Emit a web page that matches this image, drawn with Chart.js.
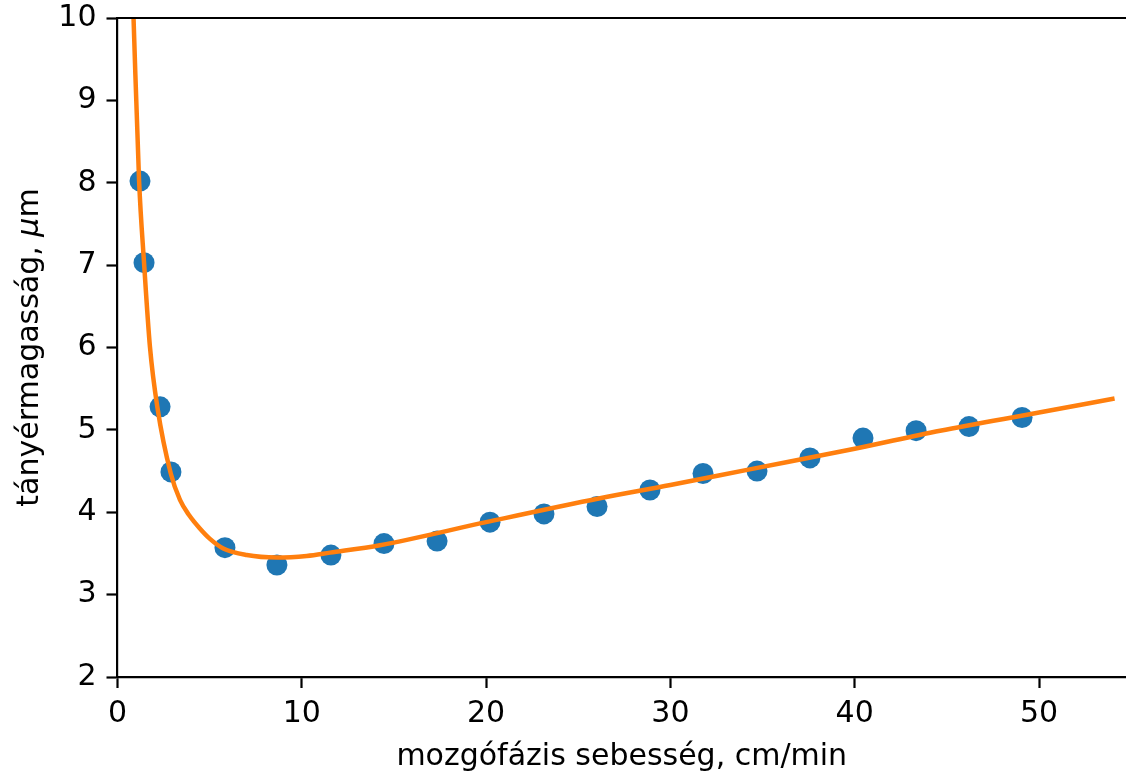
<!DOCTYPE html>
<html>
<head>
<meta charset="utf-8">
<script src="https://cdn.jsdelivr.net/npm/chart.js@4.4.1/dist/chart.umd.min.js"></script>
<style>
  html, body { margin: 0; padding: 0; background: #fff; }
  #wrap { width: 1126px; height: 777px; }
</style>
</head>
<body>
<div id="wrap"><canvas id="plot" width="1126" height="777"></canvas></div>
<script>
// measured points (mobile phase velocity vs plate height)
const speedMeasured = [1.22, 1.44, 2.31, 2.90, 5.83, 8.65, 11.58, 14.46, 17.34, 20.21,
  23.14, 26.02, 28.89, 31.77, 34.70, 37.57, 40.45, 43.33, 46.20, 49.08];
const heightMeasured = [8.02, 7.03, 5.28, 4.49, 3.57, 3.36, 3.48, 3.62, 3.65, 3.88,
  3.98, 4.07, 4.27, 4.47, 4.50, 4.66, 4.90, 4.99, 5.04, 5.15];

// fitted curve
const speedFit = [0.87, 1.17, 1.44, 1.76, 2.16, 2.89, 3.39, 3.90, 4.48, 5.00, 5.74, 7.01, 8.64,
  10.27, 11.53, 14.24, 20.0, 26.18, 30.0, 34.3, 40.0, 44.63, 50.0, 54.1];
const heightFit = [10.0, 8.03, 7.03, 6.01, 5.28, 4.47, 4.15, 3.96, 3.80, 3.68, 3.56, 3.48, 3.45,
  3.47, 3.51, 3.60, 3.88, 4.17, 4.33, 4.52, 4.77, 4.99, 5.21, 5.38];

const xTitle = 'mozgófázis sebesség, cm/min';
const yTitleParts = [['tányérmagasság, ', ''], ['μ', 'italic '], ['m', '']];

const FONT = '"DejaVu Sans", sans-serif';
const FSIZE = 30;
const SPINE = 2.2;

const toPoints = (xs, ys) => xs.map((x, i) => ({ x: x, y: ys[i] }));

// draws the top spine and both axis titles
const decorations = {
  id: 'decorations',
  afterDraw(chart) {
    const ctx = chart.ctx;
    const area = chart.chartArea;
    ctx.save();
    ctx.strokeStyle = '#000';
    ctx.lineWidth = SPINE;
    ctx.beginPath();
    ctx.moveTo(area.left - SPINE / 2, area.top);
    ctx.lineTo(area.right, area.top);
    ctx.stroke();

    ctx.fillStyle = '#000';
    ctx.textBaseline = 'middle';
    ctx.textAlign = 'center';
    ctx.font = FSIZE + 'px ' + FONT;
    ctx.fillText(xTitle, (area.left + area.right) / 2, 757);

    // y title with italic mu
    ctx.translate(30, (area.top + area.bottom) / 2);
    ctx.rotate(-Math.PI / 2);
    ctx.textAlign = 'left';
    let total = 0;
    yTitleParts.forEach(p => {
      ctx.font = p[1] + FSIZE + 'px ' + FONT;
      total += ctx.measureText(p[0]).width;
    });
    let pos = -total / 2;
    yTitleParts.forEach(p => {
      ctx.font = p[1] + FSIZE + 'px ' + FONT;
      ctx.fillText(p[0], pos, 0);
      pos += ctx.measureText(p[0]).width;
    });
    ctx.restore();
  }
};

const axisCommon = {
  border: { display: true, color: '#000', width: SPINE },
  grid: { display: true, drawOnChartArea: false, drawTicks: true, tickLength: 11, tickWidth: SPINE, color: '#000' },
  ticks: { color: '#000', font: { family: FONT, size: FSIZE }, padding: 8 }
};

new Chart(document.getElementById('plot').getContext('2d'), {
  type: 'scatter',
  data: {
    datasets: [
      {
        label: 'fit',
        data: toPoints(speedFit, heightFit),
        showLine: true,
        borderColor: '#ff7f0e',
        borderWidth: 4.5,
        pointRadius: 0,
        cubicInterpolationMode: 'monotone',
        fill: false
      },
      {
        label: 'measured',
        data: toPoints(speedMeasured, heightMeasured),
        backgroundColor: '#1f77b4',
        borderWidth: 0,
        pointRadius: 10.5
      }
    ]
  },
  options: {
    responsive: false,
    animation: false,
    devicePixelRatio: 1,
    layout: { autoPadding: false, padding: { top: 18, right: 0, bottom: 0, left: 0 } },
    plugins: { legend: { display: false }, tooltip: { enabled: false } },
    scales: {
      x: {
        type: 'linear',
        min: 0,
        max: 54.72,
        border: axisCommon.border,
        grid: axisCommon.grid,
        ticks: Object.assign({}, axisCommon.ticks, { stepSize: 10, includeBounds: false, maxRotation: 0 }),
        afterFit(scale) {
          scale.height = 100;
          scale.paddingLeft = 0;
          scale.paddingRight = 0;
        }
      },
      y: {
        type: 'linear',
        min: 2,
        max: 10,
        border: axisCommon.border,
        grid: axisCommon.grid,
        ticks: Object.assign({}, axisCommon.ticks, { stepSize: 1, padding: 10 }),
        afterFit(scale) {
          scale.width = 117.5;
          scale.paddingTop = 0;
          scale.paddingBottom = 0;
        }
      }
    }
  },
  plugins: [decorations]
});
</script>
</body>
</html>
